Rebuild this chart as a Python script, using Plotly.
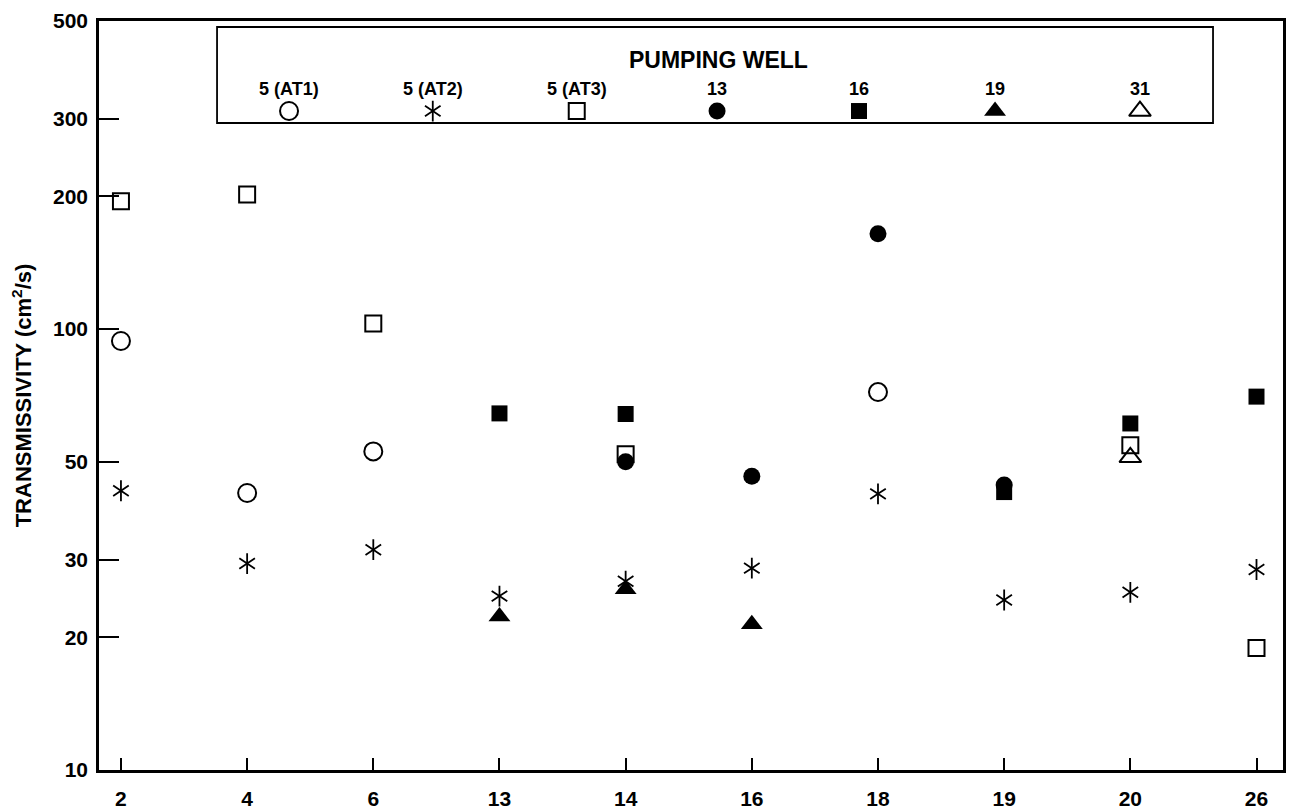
import plotly.graph_objects as go

# ---------------- data ----------------
categories = ["2", "4", "6", "13", "14", "16", "18", "19", "20", "26"]

at1_x = ["2", "4", "6", "18"]
at1_y = [94, 42.5, 52.8, 72]

at2_x = ["2", "4", "6", "13", "14", "16", "18", "19", "20", "26"]
at2_y = [43, 29.4, 31.6, 24.8, 26.8, 28.7, 42.3, 24.3, 25.3, 28.5]

at3_x = ["2", "4", "6", "14", "20", "26"]
at3_y = [195, 202, 103, 52, 54.5, 18.9]

w13_x = ["14", "16", "18", "19"]
w13_y = [50, 46.4, 164.5, 44.3]

w16_x = ["13", "14", "19", "20", "26"]
w16_y = [64.4, 64.2, 42.7, 61.1, 70.3]

w19_x = ["13", "14", "16"]
w19_y = [22.3, 25.7, 21.4]

w31_x = ["20"]
w31_y = [51.2]

legend_labels = ["5 (AT1)", "5 (AT2)", "5 (AT3)", "13", "16", "19", "31"]
y_ticks = [10, 20, 30, 50, 100, 200, 300, 500]

FONT = "Liberation Sans"
BLACK = "black"

fig = go.Figure()

def add_series(xs, ys, symbol, size, lw=2):
    fig.add_trace(go.Scatter(
        x=xs, y=ys, mode="markers", showlegend=False, hoverinfo="x+y",
        marker=dict(symbol=symbol, size=size, color=BLACK,
                    line=dict(color=BLACK, width=lw))))

add_series(at1_x, at1_y, "circle-open", 18)
add_series(at2_x, at2_y, "y-up-open", 13, 1.8)
add_series(at2_x, at2_y, "y-down-open", 13, 1.8)
add_series(at3_x, at3_y, "square-open", 16)
add_series(w13_x, w13_y, "circle", 17, 0)
add_series(w16_x, w16_y, "square", 16, 0)
add_series(w19_x, w19_y, "triangle-up", 19, 0)
add_series(w31_x, w31_y, "triangle-up-open", 19)

# ------------- custom legend (overlay axis in paper-like units) -------------
# plot area spans page px x 99..1283, y 21..770
leg_x = [0.1605, 0.2819, 0.4035, 0.5220, 0.6419, 0.7568, 0.8792]
leg_sym_y = 0.8798
leg_lab_y = 0.9095
leg_syms = [("circle-open", 18, 2), ("y-up-open", 13, 1.8), ("square-open", 16, 2),
            ("circle", 17, 0), ("square", 16, 0), ("triangle-up", 19, 0),
            ("triangle-up-open", 19, 2)]
for i, (sym, sz, lw) in enumerate(leg_syms):
    syms = [sym] if sym != "y-up-open" else ["y-up-open", "y-down-open"]
    for s in syms:
        fig.add_trace(go.Scatter(
            x=[leg_x[i]], y=[leg_sym_y], xaxis="x2", yaxis="y2", mode="markers",
            showlegend=False, hoverinfo="skip",
            marker=dict(symbol=s, size=sz, color=BLACK, line=dict(color=BLACK, width=lw))))
    fig.add_annotation(x=leg_x[i], y=leg_lab_y, xref="paper", yref="paper",
                       xanchor="center", yanchor="middle",
                       text="<b>%s</b>" % legend_labels[i], showarrow=False,
                       font=dict(family=FONT, size=18, color=BLACK))

fig.add_annotation(x=0.5236, y=0.9479, xref="paper", yref="paper",
                   xanchor="center", yanchor="middle",
                   text="<b>PUMPING WELL</b>", showarrow=False,
                   font=dict(family=FONT, size=23, color=BLACK))

fig.add_shape(type="rect", xref="paper", yref="paper",
              x0=0.0997, x1=0.9409, y0=0.8638, y1=0.9920,
              line=dict(color=BLACK, width=1.8), fillcolor="rgba(0,0,0,0)")

fig.update_layout(
    width=1286, height=804,
    margin=dict(l=91, r=11, t=13, b=42, autoexpand=False),
    paper_bgcolor="white", plot_bgcolor="white",
    font=dict(family=FONT, color=BLACK),
    xaxis=dict(type="category", categoryorder="array", categoryarray=categories,
               range=[-0.174, 9.21], showgrid=False, zeroline=False, automargin=False,
               showline=True, linecolor=BLACK, linewidth=2.5, mirror=True,
               ticks="inside", ticklen=12, tickwidth=1.5, tickcolor=BLACK,
               tickvals=categories, ticktext=["<b>%s</b>" % c for c in categories],
               ticklabelstandoff=8, ticklabeloverflow="allow",
               tickfont=dict(family=FONT, size=21, color=BLACK)),
    yaxis=dict(type="log", range=[1, 2.69897], showgrid=False, zeroline=False,
               automargin=False,
               showline=True, linecolor=BLACK, linewidth=2.5, mirror=True,
               ticks="inside", ticklen=20, tickwidth=1.5, tickcolor=BLACK,
               tickvals=y_ticks, ticktext=["<b>%d</b>" % v for v in y_ticks],
               ticklabelstandoff=4, ticklabeloverflow="allow",
               tickfont=dict(family=FONT, size=21, color=BLACK),
               title=dict(text="<b>TRANSMISSIVITY (cm<sup>2</sup>/s)</b>",
                          font=dict(family=FONT, size=22, color=BLACK), standoff=18)),
    xaxis2=dict(overlaying="x", range=[0, 1], visible=False, fixedrange=True),
    yaxis2=dict(overlaying="y", range=[0, 1], visible=False, fixedrange=True),
)

fig.write_html("out.html")
